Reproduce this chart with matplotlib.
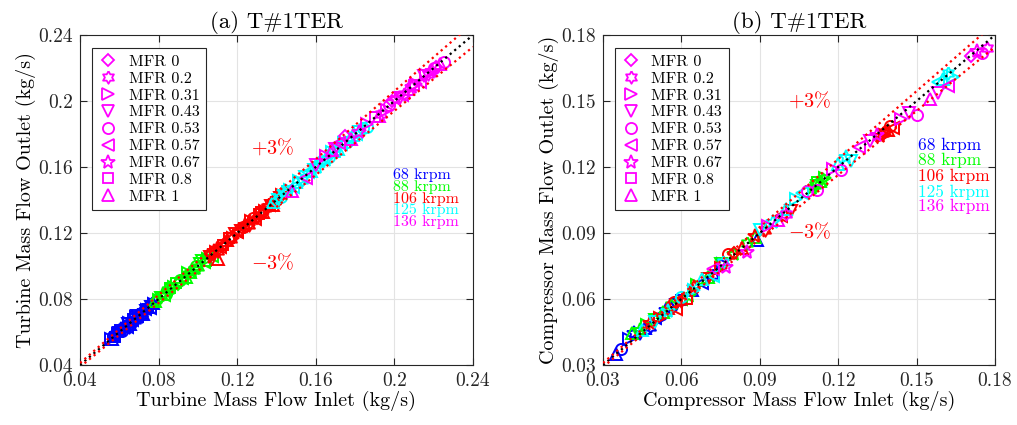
import matplotlib
matplotlib.use("Agg")
import matplotlib.pyplot as plt
import numpy as np

# ---------------- data ----------------
mfr_labels = ["MFR 0", "MFR 0.2", "MFR 0.31", "MFR 0.43", "MFR 0.53",
              "MFR 0.57", "MFR 0.67", "MFR 0.8", "MFR 1"]
speed_labels = ["68 krpm", "88 krpm", "106 krpm", "125 krpm", "136 krpm"]

# Turbine (panel a): inlet x, outlet y, MFR index per point
t68_x = [0.056, 0.057, 0.058, 0.059, 0.060, 0.061, 0.062, 0.063, 0.064, 0.065, 0.066,
         0.067, 0.068, 0.069, 0.070, 0.071, 0.072, 0.073, 0.074, 0.075, 0.076, 0.077,
         0.0565, 0.0575, 0.0585, 0.0595, 0.0605, 0.0615, 0.0625, 0.0635, 0.0645, 0.0655, 0.0665,
         0.0675, 0.0685, 0.0695, 0.0705, 0.0715, 0.0725, 0.0735, 0.0745, 0.0755, 0.0765, 0.0775]
t68_y = [0.0555, 0.0578, 0.0572, 0.0598, 0.0594, 0.0617, 0.0611, 0.0638, 0.0631, 0.0657, 0.0652,
         0.0679, 0.0671, 0.0698, 0.0691, 0.0718, 0.0712, 0.0739, 0.0731, 0.0758, 0.0752, 0.0778,
         0.0560, 0.0582, 0.0580, 0.0590, 0.0610, 0.0608, 0.0630, 0.0626, 0.0650, 0.0648, 0.0670,
         0.0668, 0.0690, 0.0688, 0.0710, 0.0706, 0.0730, 0.0725, 0.0750, 0.0748, 0.0770, 0.0768]
t68_m = [2, 4, 7, 1, 3, 6, 0, 8, 5, 2, 4, 7, 1, 3, 6, 0, 8, 5, 2, 6, 3, 8,
         8, 5, 0, 2, 7, 4, 1, 6, 3, 8, 5, 0, 2, 7, 4, 1, 6, 3, 8, 5, 0, 2]

t88_x = [0.078, 0.080, 0.082, 0.084, 0.085, 0.087, 0.089, 0.090, 0.092, 0.094, 0.095,
         0.097, 0.099, 0.100, 0.102, 0.104, 0.106, 0.107,
         0.079, 0.081, 0.083, 0.086, 0.088, 0.091, 0.093, 0.096, 0.098, 0.101, 0.103, 0.105]
t88_y = [0.0785, 0.0792, 0.0829, 0.0833, 0.0857, 0.0862, 0.0898, 0.0893, 0.0929, 0.0932, 0.0958,
         0.0961, 0.0998, 0.0992, 0.1029, 0.1032, 0.1068, 0.1062,
         0.0795, 0.0805, 0.0825, 0.0865, 0.0875, 0.0915, 0.0925, 0.0965, 0.0975, 0.1015, 0.1025, 0.1045]
t88_m = [8, 2, 6, 4, 1, 3, 7, 0, 5, 8, 2, 6, 4, 1, 3, 7, 0, 5,
         0, 3, 5, 7, 2, 4, 6, 8, 1, 3, 5, 2]

t106_x = [0.106, 0.108, 0.110, 0.110, 0.112, 0.114, 0.116, 0.118, 0.120, 0.122, 0.124, 0.126,
          0.128, 0.130, 0.132, 0.134, 0.136, 0.138, 0.140, 0.142, 0.144,
          0.107, 0.109, 0.111, 0.113, 0.115, 0.117, 0.119, 0.121, 0.123, 0.125, 0.127, 0.129,
          0.131, 0.133, 0.135, 0.137, 0.139, 0.141, 0.143]
t106_y = [0.1055, 0.1088, 0.1092, 0.1040, 0.1129, 0.1131, 0.1168, 0.1172, 0.1209, 0.1211, 0.1249,
          0.1250, 0.1289, 0.1291, 0.1329, 0.1331, 0.1369, 0.1371, 0.1409, 0.1411, 0.1448,
          0.1075, 0.1085, 0.1115, 0.1125, 0.1155, 0.1165, 0.1195, 0.1205, 0.1235, 0.1245, 0.1275, 0.1285,
          0.1315, 0.1325, 0.1355, 0.1365, 0.1395, 0.1405, 0.1430]
t106_m = [3, 6, 1, 8, 4, 0, 7, 2, 5, 3, 6, 1, 4, 0, 7, 2, 5, 8, 6, 3, 4,
          0, 2, 5, 7, 8, 1, 3, 6, 4, 0, 2, 5, 7, 8, 1, 3, 6, 0, 2]

t125_x = [0.138, 0.141, 0.144, 0.147, 0.150, 0.153, 0.156, 0.159, 0.162, 0.165, 0.168,
          0.170, 0.173, 0.176, 0.179, 0.182, 0.184, 0.186,
          0.1395, 0.1425, 0.1455, 0.1485, 0.1515, 0.1545, 0.1575, 0.1605, 0.1635, 0.1665,
          0.1695, 0.1715, 0.1745, 0.1775, 0.1805]
t125_y = [0.1385, 0.1402, 0.1448, 0.1462, 0.1508, 0.1522, 0.1568, 0.1582, 0.1628, 0.1641, 0.1688,
          0.1692, 0.1738, 0.1752, 0.1795, 0.1812, 0.1835, 0.1840,
          0.1395, 0.1420, 0.1455, 0.1480, 0.1515, 0.1540, 0.1575, 0.1600, 0.1635, 0.1660,
          0.1700, 0.1710, 0.1745, 0.1770, 0.1800]
t125_m = [8, 3, 6, 2, 8, 1, 5, 3, 0, 6, 2, 7, 5, 4, 8, 3, 4, 4,
          0, 4, 7, 5, 2, 3, 8, 6, 1, 4, 0, 8, 2, 6, 5]

t136_x = [0.148, 0.155, 0.165, 0.170, 0.175, 0.178, 0.182, 0.190, 0.193, 0.196, 0.199, 0.201,
          0.203, 0.205, 0.207, 0.209, 0.211, 0.213, 0.215, 0.217, 0.219, 0.221, 0.225,
          0.160, 0.168, 0.172, 0.186, 0.192, 0.197, 0.204, 0.210, 0.216, 0.220, 0.223]
t136_y = [0.1455, 0.1535, 0.1665, 0.1712, 0.1785, 0.1770, 0.1815, 0.1905, 0.1920, 0.1945, 0.2000,
          0.2010, 0.2018, 0.2045, 0.2070, 0.2085, 0.2105, 0.2118, 0.2150, 0.2165, 0.2182, 0.2205, 0.2235,
          0.1610, 0.1700, 0.1745, 0.1860, 0.1910, 0.1975, 0.2035, 0.2095, 0.2160, 0.2200, 0.2225]
t136_m = [8, 5, 2, 3, 0, 8, 6, 7, 1, 2, 0, 6, 3, 1, 8, 6, 2, 5, 3, 1, 6, 0, 4,
          3, 8, 5, 2, 8, 4, 5, 7, 2, 4, 8]

# Compressor (panel b)
c68_x = [0.035, 0.037, 0.040, 0.042, 0.044, 0.046, 0.048, 0.050, 0.052, 0.054, 0.056,
         0.058, 0.060, 0.064, 0.068, 0.072, 0.076, 0.089]
c68_y = [0.0350, 0.0375, 0.0420, 0.0445, 0.0440, 0.0470, 0.0475, 0.0515, 0.0510, 0.0548, 0.0555,
         0.0575, 0.0595, 0.0640, 0.0672, 0.0710, 0.0758, 0.0868]
c68_m = [8, 4, 2, 6, 3, 8, 1, 5, 2, 6, 0, 3, 7, 8, 5, 1, 2, 8]

c88_x = [0.041, 0.044, 0.047, 0.050, 0.053, 0.056, 0.060, 0.063, 0.066, 0.070, 0.075,
         0.080, 0.085, 0.088, 0.110, 0.111, 0.112, 0.113, 0.114, 0.115, 0.112]
c88_y = [0.0445, 0.0460, 0.0480, 0.0505, 0.0540, 0.0575, 0.0600, 0.0615, 0.0665, 0.0700, 0.0760,
         0.0805, 0.0855, 0.0880, 0.1105, 0.1120, 0.1115, 0.1135, 0.1140, 0.1150, 0.1130]
c88_m = [8, 6, 2, 3, 8, 1, 5, 6, 2, 8, 3, 6, 1, 8, 6, 1, 3, 8, 6, 2, 7]

c106_x = [0.048, 0.052, 0.055, 0.057, 0.058, 0.060, 0.062, 0.065, 0.070, 0.075, 0.078, 0.080,
          0.083, 0.088, 0.092, 0.098, 0.102, 0.136, 0.137, 0.138, 0.139, 0.140, 0.141, 0.138]
c106_y = [0.0490, 0.0515, 0.0560, 0.0585, 0.0555, 0.0590, 0.0600, 0.0655, 0.0690, 0.0740, 0.0805, 0.0810,
          0.0830, 0.0885, 0.0915, 0.0975, 0.1000, 0.1340, 0.1355, 0.1360, 0.1370, 0.1385, 0.1375, 0.1345]
c106_m = [6, 2, 8, 4, 5, 1, 7, 6, 3, 2, 4, 0, 8, 6, 1, 5, 3, 6, 1, 0, 8, 4, 5, 2]

c125_x = [0.045, 0.050, 0.055, 0.060, 0.065, 0.068, 0.072, 0.076, 0.090, 0.095, 0.100,
          0.104, 0.106, 0.120, 0.123, 0.125, 0.158, 0.160, 0.162, 0.164]
c125_y = [0.0460, 0.0495, 0.0545, 0.0610, 0.0640, 0.0690, 0.0705, 0.0770, 0.0915, 0.0950, 0.1010,
          0.1055, 0.1080, 0.1215, 0.1245, 0.1225, 0.1585, 0.1600, 0.1625, 0.1610]
c125_m = [8, 3, 6, 4, 2, 8, 5, 1, 3, 6, 8, 2, 5, 8, 6, 3, 5, 8, 1, 2]

c136_x = [0.072, 0.077, 0.085, 0.093, 0.097, 0.100, 0.108, 0.112, 0.118, 0.121, 0.128, 0.132,
          0.135, 0.144, 0.147, 0.150, 0.155, 0.158, 0.162, 0.171, 0.173, 0.175, 0.177]
c136_y = [0.0735, 0.0745, 0.0815, 0.0930, 0.0960, 0.0985, 0.1090, 0.1095, 0.1190, 0.1185, 0.1290, 0.1320,
          0.1345, 0.1420, 0.1445, 0.1436, 0.1510, 0.1535, 0.1570, 0.1705, 0.1725, 0.1720, 0.1740]
c136_m = [5, 6, 6, 2, 8, 1, 4, 4, 2, 4, 5, 3, 6, 2, 3, 4, 8, 3, 5, 0, 6, 4, 1]

speed_colors = ["#0000ff", "#00ff00", "#ff0000", "#00ffff", "#ff00ff"]

# ---------------- style ----------------
plt.rcParams['font.family'] = ['cmr10', 'DejaVu Serif']
plt.rcParams['mathtext.fontset'] = 'cm'
plt.rcParams['axes.unicode_minus'] = False
plt.rcParams['axes.formatter.use_mathtext'] = True

# hexagram marker (star of David outline)
ang = np.deg2rad(np.arange(12) * 30 + 90)
rad = np.where(np.arange(12) % 2 == 0, 1.0, 0.577)
hexagram = np.column_stack([rad * np.cos(ang), rad * np.sin(ang)])
hexagram = np.vstack([hexagram, hexagram[:1]])

markers = ['D', hexagram, '>', 'v', 'o', '<', '*', 's', '^']
msizes = [6.5, 9, 8, 8, 8, 8, 10, 6.5, 8]

fig = plt.figure(figsize=(10.17, 4.25), dpi=100)
axA = fig.add_axes([80 / 1017, 60 / 425, 393 / 1017, 330 / 425])
axB = fig.add_axes([603 / 1017, 60 / 425, 392 / 1017, 330 / 425])

panels = [
    (axA, [(t68_x, t68_y, t68_m), (t88_x, t88_y, t88_m), (t106_x, t106_y, t106_m),
           (t125_x, t125_y, t125_m), (t136_x, t136_y, t136_m)],
     (0.04, 0.24), [0.04, 0.08, 0.12, 0.16, 0.2, 0.24],
     "(a) T#1TER", "Turbine Mass Flow Inlet (kg/s)", "Turbine Mass Flow Outlet (kg/s)"),
    (axB, [(c68_x, c68_y, c68_m), (c88_x, c88_y, c88_m), (c106_x, c106_y, c106_m),
           (c125_x, c125_y, c125_m), (c136_x, c136_y, c136_m)],
     (0.03, 0.18), [0.03, 0.06, 0.09, 0.12, 0.15, 0.18],
     "(b) T#1TER", "Compressor Mass Flow Inlet (kg/s)", "Compressor Mass Flow Outlet (kg/s)"),
]

for ax, groups, lim, ticks, title, xl, yl in panels:
    for (xs, ys, ms), col in zip(groups, speed_colors):
        for x, y, m in zip(xs, ys, ms):
            ax.plot([x], [y], linestyle='none', marker=markers[m], markersize=msizes[m],
                    markerfacecolor='none', markeredgecolor=col, markeredgewidth=1.4, zorder=3)
    ref = np.array(lim)
    ax.plot(ref, ref, color='black', linestyle=':', linewidth=1.6, zorder=4)
    ax.plot(ref, ref * 1.03, color='red', linestyle=':', linewidth=1.6, zorder=4)
    ax.plot(ref, ref * 0.97, color='red', linestyle=':', linewidth=1.6, zorder=4)
    ax.set_xlim(lim)
    ax.set_ylim(lim)
    ax.set_xticks(ticks)
    ax.set_yticks(ticks)
    ax.set_xticklabels([("%g" % t) for t in ticks])
    ax.set_yticklabels([("%g" % t) for t in ticks])
    ax.tick_params(direction='in', top=True, right=True, length=5, width=0.8,
                   labelsize=14, colors='#262626', pad=5)
    ax.grid(True, color='#e3e3e3', linewidth=0.8)
    ax.set_axisbelow(True)
    for sp in ax.spines.values():
        sp.set_color('#262626')
        sp.set_linewidth(0.8)
    ax.set_title(title, fontsize=16.5, pad=5)
    ax.set_xlabel(xl, fontsize=14.5, labelpad=1)
    ax.set_ylabel(yl, fontsize=14.5, labelpad=2)

    # legend of MFR markers
    handles = [plt.Line2D([], [], linestyle='none', marker=markers[i], markersize=msizes[i],
                          markerfacecolor='none', markeredgecolor='#ff00ff', markeredgewidth=1.3)
               for i in range(len(mfr_labels))]
    leg = ax.legend(handles, mfr_labels, loc='upper left', bbox_to_anchor=(0.03, 0.96),
                    fontsize=11.5, frameon=True, fancybox=False, edgecolor='#262626',
                    framealpha=1, labelspacing=0.17, handlelength=1.2, handletextpad=0.7,
                    borderpad=0.4, borderaxespad=0)
    leg.get_frame().set_linewidth(0.8)

# annotations panel a
axA.text(0.138, 0.172, r'$+3\%$', color='red', fontsize=14.5, ha='center', va='center')
axA.text(0.138, 0.102, r'$-3\%$', color='red', fontsize=14.5, ha='center', va='center')
# annotations panel b
axB.text(0.109, 0.1504, r'$+3\%$', color='red', fontsize=14.5, ha='center', va='center')
axB.text(0.109, 0.0905, r'$-3\%$', color='red', fontsize=14.5, ha='center', va='center')

for ax, x0, ys, fs in [(axA, 393, [175, 186.75, 198.5, 210.25, 222], 11.5),
                       (axB, 918, [145, 160, 176, 192, 206], 12.5)]:
    for lab, col, ypx in zip(speed_labels, speed_colors, ys):
        fig.text(x0 / 1017, 1 - ypx / 425, lab, color=col, fontsize=fs, ha='left', va='center')

fig.savefig("out.png", dpi=100)
